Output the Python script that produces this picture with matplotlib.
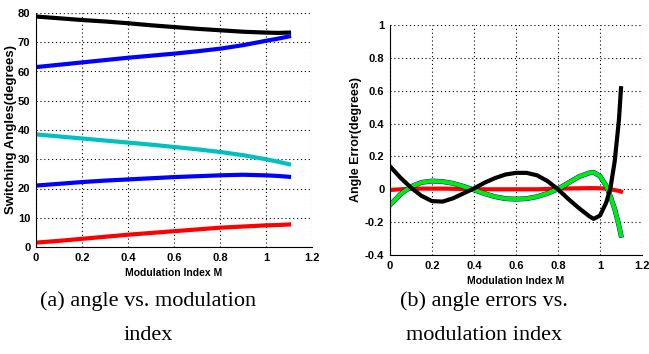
import numpy as np
import matplotlib
matplotlib.use("Agg")
import matplotlib.pyplot as plt
from matplotlib.font_manager import FontProperties

# (a) switching angles vs modulation index
m_a = [0, 0.1, 0.2, 0.3, 0.4, 0.5, 0.6, 0.7, 0.8, 0.9, 1.0, 1.05, 1.1]
ang_black = [78.8, 78.2, 77.6, 77.1, 76.5, 75.8, 75.2, 74.6, 74.1, 73.6, 73.3, 73.2, 73.3]
ang_blue_top = [61.5, 62.3, 63.1, 63.9, 64.7, 65.4, 66.1, 66.9, 67.8, 69.0, 70.5, 71.2, 72.0]
ang_cyan = [38.5, 37.8, 37.1, 36.4, 35.7, 35.0, 34.2, 33.4, 32.5, 31.4, 30.0, 29.2, 28.3]
ang_blue_low = [21.0, 21.6, 22.2, 22.7, 23.1, 23.5, 23.9, 24.2, 24.5, 24.7, 24.5, 24.3, 24.0]
ang_red = [1.5, 2.1, 2.8, 3.5, 4.2, 4.8, 5.4, 6.0, 6.6, 7.0, 7.4, 7.5, 7.7]

# (b) angle errors vs modulation index
m_b = [0, 0.05, 0.1, 0.15, 0.2, 0.25, 0.3, 0.35, 0.4, 0.45, 0.5, 0.55, 0.6, 0.65,
       0.7, 0.75, 0.8, 0.85, 0.9, 0.95, 0.97, 1.0, 1.03, 1.05, 1.07, 1.09, 1.1]
err_black = [0.14, 0.07, 0.01, -0.04, -0.072, -0.075, -0.055, -0.025, 0.005, 0.04,
             0.068, 0.09, 0.1, 0.1, 0.085, 0.05, 0.0, -0.06, -0.115, -0.165, -0.18,
             -0.16, -0.08, 0.01, 0.17, 0.42, 0.615]
err_green = [-0.095, -0.03, 0.016, 0.042, 0.05, 0.047, 0.036, 0.018, -0.004, -0.026,
             -0.045, -0.057, -0.06, -0.057, -0.045, -0.025, 0.002, 0.04, 0.077, 0.1,
             0.103, 0.08, 0.02, -0.045, -0.12, -0.22, -0.28]
err_red = [-0.004, 0.0, 0.003, 0.004, 0.004, 0.004, 0.003, 0.002, 0.0, 0.0, 0.0, 0.0,
           0.0, 0.0, 0.0, 0.002, 0.004, 0.005, 0.006, 0.007, 0.007, 0.006, 0.004, 0.0,
           -0.005, -0.01, -0.014]

xticks = [0, 0.2, 0.4, 0.6, 0.8, 1, 1.2]
xtick_labels = ["0", "0.2", "0.4", "0.6", "0.8", "1", "1.2"]
yticks_a = [0, 10, 20, 30, 40, 50, 60, 70, 80]
yticks_b = [-0.4, -0.2, 0, 0.2, 0.4, 0.6, 0.8, 1]
ytick_labels_b = ["-0.4", "-0.2", "0", "0.2", "0.4", "0.6", "0.8", "1"]

W, H = 649, 354
fig = plt.figure(figsize=(W / 100, H / 100), dpi=100)
sans = ["Liberation Sans Narrow", "Liberation Sans"]
tick_font = dict(family=sans, weight="bold", size=8)
xlabel_font = dict(family=sans, weight="bold", size=7.5)


def style_axes(ax):
    ax.spines["top"].set_visible(False)
    ax.spines["right"].set_visible(False)
    ax.grid(True, linestyle=(0, (1, 2.5)), color="black", linewidth=0.8)
    ax.set_axisbelow(True)
    ax.tick_params(direction="in", length=0, pad=4)
    for lab in ax.get_xticklabels() + ax.get_yticklabels():
        lab.set_fontproperties(FontProperties(**tick_font))


ax1 = fig.add_axes([36 / W, (H - 247) / H, 276 / W, 234 / H])
lw = 3
ax1.plot(m_a, ang_black, color="black", lw=lw)
ax1.plot(m_a, ang_blue_top, color="blue", lw=lw)
ax1.plot(m_a, ang_cyan, color="#00c0c0", lw=lw)
ax1.plot(m_a, ang_blue_low, color="blue", lw=lw)
ax1.plot(m_a, ang_red, color="red", lw=lw)
ax1.set_xlim(0, 1.2)
ax1.set_ylim(0, 80)
ax1.set_xticks(xticks, xtick_labels)
ax1.set_yticks(yticks_a)
ax1.set_xlabel("Modulation Index M", fontdict=xlabel_font, labelpad=4)
ax1.set_ylabel("Switching Angles(degrees)", fontdict=dict(family=sans, weight="bold", size=9.5), labelpad=1)
style_axes(ax1)

ax2 = fig.add_axes([390 / W, (H - 255) / H, 252 / W, 230 / H])
ax2.plot(m_b, err_red, color="red", lw=lw)
ax2.plot(m_b, err_green, color="blue", lw=lw + 0.6)
ax2.plot(m_b, err_green, color="#00ee00", lw=lw)
ax2.plot(m_b, err_black, color="black", lw=lw)
ax2.set_xlim(0, 1.2)
ax2.set_ylim(-0.4, 1)
ax2.set_xticks(xticks, xtick_labels)
ax2.set_yticks(yticks_b, ytick_labels_b)
ax2.set_xlabel("Modulation Index M", fontdict=xlabel_font, labelpad=4)
ax2.set_ylabel("Angle Error(degrees)", fontdict=dict(family=sans, weight="bold", size=9), labelpad=2)
style_axes(ax2)

cap_font = dict(family="Liberation Serif", size=16, ha="center", va="center")
fig.text(148 / W, 1 - 301 / H, "(a) angle vs. modulation", **cap_font)
fig.text(148 / W, 1 - 336 / H, "index", **cap_font)
fig.text(484 / W, 1 - 301 / H, "(b) angle errors vs.", **cap_font)
fig.text(484 / W, 1 - 336 / H, "modulation index", **cap_font)

fig.savefig("out.png", dpi=100)
